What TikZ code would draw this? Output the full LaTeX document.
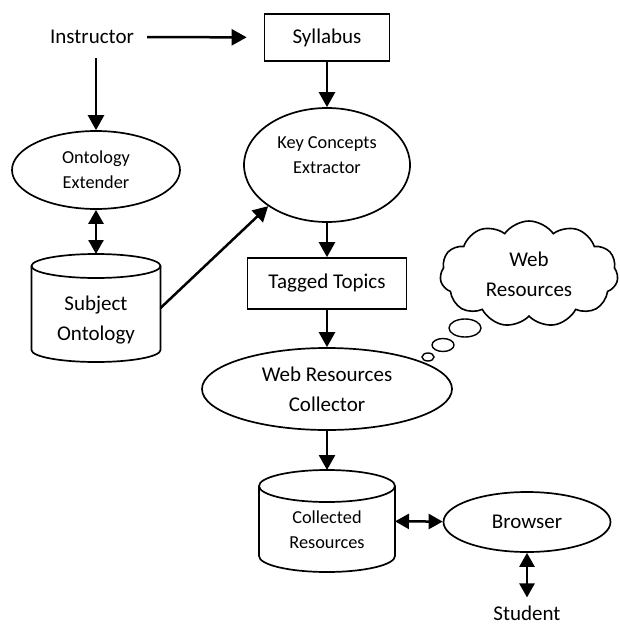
\documentclass[tikz,border=0pt]{standalone}
\usepackage{fontspec}
\setmainfont{Carlito}
\usetikzlibrary{arrows.meta,shapes.geometric,shapes.symbols,calc,positioning}

\tikzset{
  bigtxt/.style={font={\fontsize{21}{30}\selectfont}, align=center, inner sep=2pt},
  smalltxt/.style={font={\fontsize{18.3}{25}\selectfont}, align=center, inner sep=2pt},
  box/.style={draw, line width=1.7pt, rectangle},
  oval/.style={draw, line width=1.7pt, ellipse, inner sep=0pt},
  store/.style={rectangle, inner sep=0pt, outer sep=0pt},
  arr/.style={line width=2.5pt, -{Triangle[length=15pt,width=16pt]}},
  dbl/.style={line width=2.5pt, {Triangle[length=14pt,width=15pt]}-{Triangle[length=14pt,width=15pt]}},
}

\begin{document}
\begin{tikzpicture}[x=1pt, y=1pt]
\useasboundingbox (0,0) rectangle (620,-626);

% main column
\node[box, bigtxt, minimum width=125pt, minimum height=47pt] (syl) at (327,-37.5) {Syllabus};
\node[oval, minimum width=166pt, minimum height=114pt] (kce) at (327,-165) {};
\node[smalltxt] (kcetxt) at ([yshift=9.5pt]kce.center) {Key Concepts\\Extractor};
\node[box, bigtxt, minimum width=159pt, minimum height=51pt] (tag) at (327,-283.5) {Tagged Topics};
\node[oval, bigtxt, inner sep=0pt, minimum width=250pt, minimum height=82pt] (wrc) at (327,-389) {Web Resources\\Collector};
\node[store, minimum width=136pt, minimum height=102pt] (coll) at (327,-521) {};
\node[smalltxt] (colltxt) at ([yshift=-9pt]coll.center) {Collected\\Resources};

% left column
\node[bigtxt] (instr) at (92,-37) {Instructor};
\node[oval, smalltxt, inner sep=0pt, minimum width=168pt, minimum height=78pt] (oe) at (96,-170) {Ontology\\Extender};
\node[store, minimum width=129pt, minimum height=108pt] (subj) at (96,-308) {};
\node[bigtxt] (subjtxt) at ([yshift=-12pt]subj.center) {Subject\\Ontology};

% right side
\node[oval, bigtxt, inner sep=0pt, minimum width=167pt, minimum height=60pt] (brw) at (527,-522) {Browser};
\node[bigtxt] (stud) at (527,-613) {Student};
\node[cloud, draw, line width=1.6pt, cloud puffs=11, cloud puff arc=110, aspect=1.7,
      minimum width=178pt, minimum height=106pt, bigtxt] (web) at (529,-274) {Web\\Resources};

% thought bubbles
\foreach \cx/\cy/\a/\b in {465/-328/16/9, 443/-345/11/6.5, 428/-357/6/4}
  \draw[line width=1.4pt] (\cx,\cy) ellipse[x radius=\a pt, y radius=\b pt];

% cylinders
\foreach \n/\rx/\ry in {subj/64.5/12, coll/68/16} {
  \draw[line width=1.7pt] ([yshift=-\ry pt]\n.north west) -- ([yshift=\ry pt]\n.south west)
    arc[start angle=180, end angle=360, x radius=\rx pt, y radius=\ry pt]
    -- ([yshift=-\ry pt]\n.north east);
  \draw[line width=1.7pt] ([yshift=-\ry pt]\n.north) ellipse[x radius=\rx pt, y radius=\ry pt];
}

% connectors
\draw[arr, shorten <=11pt, shorten >=17pt] (instr) -- (syl);
\draw[arr, shorten <=12pt] (instr.south -| oe.north) -- (oe.north);
\draw[arr] (syl) -- (kce);
\draw[arr] (kce) -- (tag);
\draw[arr] (tag) -- (wrc);
\draw[arr] (wrc) -- (coll);
\draw[dbl] (oe) -- (subj);
\draw[arr] (subj.east) -- (kce.215);
\draw[dbl] (coll) -- (brw);
\draw[dbl, shorten >=6pt] (brw) -- (stud);

\end{tikzpicture}
\end{document}
